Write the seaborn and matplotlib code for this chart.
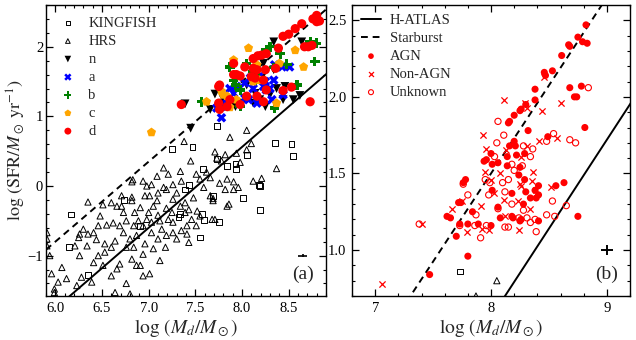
import matplotlib
matplotlib.use('Agg')
import matplotlib.pyplot as plt
from matplotlib.ticker import MultipleLocator, FormatStrFormatter
import seaborn as sns
import numpy as np

# ---- panel (a): comparison samples ----
kf_x = [7.73, 7.25, 7.47, 8.35, 8.53, 8.55, 8.05, 7.94, 7.73, 7.84,
        7.58, 7.43, 7.39, 8.18, 8.19, 8.01, 8.19, 7.34, 7.32, 7.57,
        7.75, 7.55, 6.74, 6.17, 6.15, 6.35, 6.91, 7.69, 7.59, 7.93]
kf_y = [0.86, 0.53, 0.56, 0.62, 0.60, 0.43, 0.44, 0.24, 0.39, 0.29,
        0.24, 0.01, -0.05, 0.02, 0.00, -0.17, -0.34, -0.40, -0.45, -0.40,
        -0.52, -0.74, -0.20, -0.41, -0.87, -1.28, -0.58, -0.15, -0.49, 0.31]

hrs_x = [7.87, 8.05, 8.10, 7.38, 7.45, 7.71, 7.94, 8.05, 7.82, 7.73,
         7.78, 8.37, 8.21, 8.12, 7.16, 7.34, 7.62, 7.51, 7.55, 7.66,
         7.76, 7.91, 7.96, 7.59, 7.35, 7.26, 7.09, 7.03, 6.94, 6.82,
         6.83, 6.71, 6.96, 7.10, 7.19, 7.30, 7.48, 7.66, 7.69, 7.84,
         6.35, 6.51, 6.60, 6.66, 6.73, 6.82, 6.85, 6.91, 7.00, 7.05,
         7.10, 7.19, 7.25, 7.34, 7.39, 7.43, 7.46, 7.51, 7.68, 7.55,
         7.26, 7.21, 7.12, 7.03, 6.98, 6.94, 6.89, 6.84, 6.76, 6.69,
         6.62, 6.55, 6.48, 6.46, 6.41, 6.35, 6.26, 6.25, 6.30, 6.21,
         6.34, 6.44, 6.53, 6.60, 6.64, 6.73, 6.80, 6.84, 6.87, 6.96,
         7.03, 7.05, 7.10, 7.14, 7.19, 7.26, 7.30, 7.35, 7.41, 7.43,
         7.18, 7.12, 6.94, 7.01, 6.87, 6.82, 6.69, 6.66, 6.60, 6.51,
         6.46, 6.41, 6.39, 6.28, 6.23, 6.12, 6.07, 5.96, 5.94, 6.03,
         5.99, 5.99, 6.76, 6.64, 6.80, 5.91, 5.91, 5.91, 6.26, 6.53,
         6.76, 6.94, 6.91, 7.39, 7.09, 7.26, 7.01, 6.82, 6.71, 6.98,
         7.21, 7.16, 7.69, 7.82, 7.84, 7.91, 7.98, 7.86, 7.71, 7.52, 7.41]
hrs_y = [0.70, 0.80, 0.61, 0.64, 0.36, 0.49, 0.47, 0.52, 0.45, 0.40,
         0.36, 0.25, 0.11, 0.07, 0.26, 0.21, 0.20, 0.17, 0.10, 0.12,
         0.04, 0.06, -0.02, -0.02, 0.07, 0.02, 0.14, 0.02, 0.07, 0.06,
         0.09, -0.29, -0.14, -0.10, -0.05, -0.10, -0.17, -0.14, -0.18, -0.29,
         -0.23, -0.27, -0.24, -0.29, -0.38, -0.21, -0.38, -0.31, -0.38, -0.29,
         -0.42, -0.32, -0.38, -0.29, -0.38, -0.34, -0.48, -0.57, -0.48, -0.43,
         -0.52, -0.48, -0.50, -0.52, -0.48, -0.57, -0.50, -0.57, -0.50, -0.57,
         -0.53, -0.56, -0.43, -0.57, -0.67, -0.69, -0.69, -0.74, -0.62, -0.86,
         -0.86, -0.77, -0.83, -0.88, -0.79, -0.67, -0.76, -0.88, -0.71, -0.83,
         -0.67, -0.90, -0.76, -0.62, -0.71, -0.67, -0.76, -0.64, -0.69, -0.81,
         -0.88, -1.07, -1.29, -1.26, -1.14, -1.05, -1.12, -1.19, -1.29, -1.14,
         -1.00, -1.10, -1.38, -1.31, -1.43, -1.33, -1.17, -1.26, -1.00, -1.38,
         -1.48, -1.53, -1.40, -1.53, -1.55, -0.67, -0.76, -0.86, -1.00, -0.95,
         -0.88, -0.98, -1.14, -0.24, -0.21, -0.19, -0.14, -0.16, -0.14, 0.00,
         0.17, -0.02, -0.21, -0.05, 0.10, -0.05, 0.34, -0.26, -0.48, -0.36, -0.57]

# ---- panel (a): sample split into classes n, a, b, c, d ----
n_x = [7.39, 7.45, 7.66, 7.71, 7.80, 7.93, 8.12, 8.19, 8.25, 8.14, 8.34, 8.64,
       8.34, 8.46, 8.44, 8.55, 8.62, 8.30, 8.05, 8.37, 8.21, 8.00, 8.23]
n_y = [1.18, 0.83, 1.10, 1.32, 1.24, 1.14, 1.19, 1.24, 1.14, 1.33, 2.07, 2.07,
       1.67, 1.43, 1.24, 1.24, 1.30, 1.31, 1.45, 1.40, 1.55, 1.19, 1.76]

a_x = [7.78, 7.78, 7.73, 7.84, 7.87, 7.94, 8.03, 8.09, 8.18, 8.23, 8.26, 8.35,
       8.43, 8.51, 8.25, 8.34, 8.30, 8.07, 8.03, 8.16, 8.44, 8.32, 7.91, 8.12]
a_y = [0.98, 1.14, 1.12, 1.19, 1.40, 1.43, 1.48, 1.55, 1.57, 1.43, 1.38, 1.74,
       1.71, 1.71, 1.50, 1.52, 1.40, 1.24, 1.26, 1.19, 1.31, 1.24, 1.33, 1.40]

b_x = [7.57, 7.87, 8.05, 8.26, 8.41, 8.30, 8.73, 8.80, 8.78, 8.48,
       8.34, 8.12, 8.18, 8.14, 7.98, 7.93, 8.59, 8.35, 7.91, 7.98]
b_y = [1.21, 1.71, 1.76, 1.96, 1.90, 2.00, 2.07, 2.05, 1.79, 1.75,
       1.70, 1.64, 1.55, 1.52, 1.38, 1.45, 1.45, 1.12, 1.52, 1.14]

c_x = [7.03, 7.62, 8.07, 7.91, 8.57, 8.40, 8.66, 7.78,
       7.80, 7.94, 7.87, 8.19, 8.37, 8.12, 8.16, 7.84]
c_y = [0.77, 1.21, 1.98, 1.81, 1.95, 1.76, 1.71, 1.36,
       1.31, 1.24, 1.13, 1.52, 1.19, 1.50, 1.74, 1.29]

d_x = [8.80, 8.76, 8.80, 8.83, 8.64, 8.57, 8.50, 8.44, 8.67, 8.71,
       8.75, 8.39, 8.26, 8.21, 8.17, 8.12, 7.91, 8.03, 8.12, 8.16,
       8.25, 8.36, 7.91, 7.94, 7.98, 7.76, 7.75, 8.10, 8.14, 8.23,
       8.26, 8.16, 8.05, 7.87, 7.75, 7.98, 8.23, 7.35, 8.73, 8.53,
       8.44, 7.84, 7.76]
d_y = [2.45, 2.40, 2.36, 2.37, 2.33, 2.26, 2.18, 2.15, 2.00, 2.00,
       2.02, 1.98, 1.90, 1.88, 1.87, 1.83, 1.76, 1.71, 1.69, 1.67,
       1.67, 1.69, 1.60, 1.60, 1.58, 1.45, 1.43, 1.57, 1.55, 1.52,
       1.38, 1.29, 1.29, 1.24, 1.19, 1.17, 1.21, 1.17, 1.21, 1.42,
       1.37, 1.14, 1.10]

# ---- panel (b): AGN classification ----
agn_x = [8.82, 8.75, 8.79, 8.83, 8.68, 8.67, 8.61, 8.53, 8.46, 8.47,
         8.38, 8.68, 8.78, 8.72, 8.74, 8.38, 8.30, 8.26, 8.25, 8.20,
         8.16, 8.15, 8.32, 8.81, 8.49, 8.20, 8.21, 8.16, 8.29, 8.22,
         8.14, 8.00, 7.96, 7.94, 8.01, 8.14, 8.06, 8.25, 8.24, 8.29,
         8.41, 8.56, 8.63, 8.30, 8.38, 8.18, 8.41, 8.39, 8.01, 7.78,
         7.76, 8.34, 8.28, 7.74, 7.72, 7.84, 8.06, 7.62, 7.65, 7.73,
         7.80, 7.89, 8.00, 8.08, 8.18, 8.19, 8.26, 8.25, 8.41, 8.75,
         7.70, 7.80, 7.47]
agn_y = [2.47, 2.39, 2.36, 2.35, 2.33, 2.34, 2.27, 2.17, 2.16, 2.14,
         2.05, 2.06, 2.07, 2.00, 2.00, 1.98, 1.95, 1.92, 1.91, 1.88,
         1.84, 1.83, 1.78, 1.80, 1.74, 1.71, 1.68, 1.68, 1.63, 1.62,
         1.61, 1.63, 1.59, 1.58, 1.56, 1.55, 1.57, 1.54, 1.49, 1.46,
         1.42, 1.42, 1.44, 1.38, 1.39, 1.37, 1.36, 1.34, 1.39, 1.46,
         1.44, 1.34, 1.30, 1.31, 1.31, 1.25, 1.28, 1.22, 1.21, 1.17,
         1.17, 1.17, 1.16, 1.21, 1.22, 1.21, 1.20, 1.19, 1.19, 1.22,
         1.09, 0.96, 0.84]

nonagn_x = [7.06, 7.40, 7.66, 7.75, 7.79, 7.91, 7.92, 7.98, 7.93, 7.96,
            7.95, 8.03, 8.11, 8.11, 8.29, 8.31, 8.44, 8.60, 8.46, 8.13,
            8.26, 8.31, 8.36, 8.26, 8.23, 8.34, 8.39, 8.52, 8.41, 8.57,
            8.12, 8.24, 8.35, 8.00, 8.08, 8.25]
nonagn_y = [0.78, 1.17, 1.27, 1.32, 1.12, 1.29, 1.14, 1.13, 1.75, 1.66,
            1.51, 1.37, 1.33, 1.98, 1.96, 1.93, 1.91, 1.96, 2.13, 1.65,
            1.61, 1.68, 1.51, 1.42, 1.32, 1.27, 1.39, 1.41, 1.71, 1.73,
            1.22, 1.13, 1.45, 1.46, 1.50, 1.43]

unk_x = [7.38, 7.73, 7.76, 7.80, 7.86, 7.91, 7.87, 7.96, 8.06, 8.05,
         8.11, 7.95, 7.99, 8.10, 8.15, 8.12, 8.18, 8.20, 8.27, 8.28,
         8.34, 8.36, 8.48, 8.54, 8.68, 8.73, 8.84, 8.28, 8.31, 8.38,
         8.34, 8.39, 8.48, 8.53, 8.55, 8.65, 8.12, 8.15, 8.06, 8.24,
         7.98, 8.18, 8.03]
unk_y = [1.17, 1.16, 1.43, 1.36, 1.16, 1.08, 1.23, 1.16, 1.84, 1.70,
         1.75, 1.46, 1.44, 1.44, 1.46, 1.38, 1.30, 1.52, 1.55, 1.68,
         1.61, 1.66, 1.71, 1.76, 1.72, 1.70, 2.06, 1.26, 1.21, 1.20,
         1.18, 1.12, 1.23, 1.32, 1.22, 1.29, 1.15, 1.15, 1.27, 1.21,
         1.36, 1.56, 1.61]

# relations: log SFR = slope * log Md + intercept
hatlas_fit = (1.16, -8.72)
starburst_fit = (1.15, -7.70)
line_x = np.array([5.9, 9.3])

# typical error bars
err_a = dict(x=8.65, y=-1.0, xerr=0.045, yerr=0.02)
err_b = dict(x=9.0, y=1.0, xerr=0.05, yerr=0.03)

# ---- style ----
sns.set_theme(style='ticks')
plt.rcParams['font.family'] = ['Liberation Serif', 'DejaVu Serif']
plt.rcParams['mathtext.fontset'] = 'stix'
plt.rcParams['axes.linewidth'] = 1.0

fig = plt.figure(figsize=(6.36, 3.4), dpi=100)
ax1 = fig.add_axes([0.0723, 0.1294, 0.4403, 0.856])
ax2 = fig.add_axes([0.5535, 0.1294, 0.4371, 0.856])

open_sq = dict(marker='s', s=18, facecolor='none', edgecolor='black', linewidth=0.7)
open_tri = dict(marker='^', s=20, facecolor='none', edgecolor='black', linewidth=0.7)

for ax in (ax1, ax2):
    sns.lineplot(x=line_x, y=hatlas_fit[0] * line_x + hatlas_fit[1], ax=ax,
                 color='black', lw=1.4, label='H-ATLAS', zorder=1)
    sns.lineplot(x=line_x, y=starburst_fit[0] * line_x + starburst_fit[1], ax=ax,
                 color='black', lw=1.4, ls=(0, (3.5, 2.5)), label='Starburst', zorder=1)

# panel (a)
sns.scatterplot(x=kf_x, y=kf_y, ax=ax1, label='KINGFISH', color='black', **open_sq)
sns.scatterplot(x=hrs_x, y=hrs_y, ax=ax1, label='HRS', color='black', **open_tri)
sns.scatterplot(x=n_x, y=n_y, ax=ax1, label='n', color='black', marker='v', s=40, edgecolor='none')
sns.scatterplot(x=a_x, y=a_y, ax=ax1, label='a', color='#0000ff', marker='X', s=48, edgecolor='none')
sns.scatterplot(x=b_x, y=b_y, ax=ax1, label='b', color='#008000', marker='P', s=48, edgecolor='none')
sns.scatterplot(x=c_x, y=c_y, ax=ax1, label='c', color='#ffa500', marker='p', s=48, edgecolor='none')
sns.scatterplot(x=d_x, y=d_y, ax=ax1, label='d', color='#ff0000', marker='o', s=44, edgecolor='none')
ax1.errorbar(err_a['x'], err_a['y'], xerr=err_a['xerr'], yerr=err_a['yerr'],
             color='black', lw=1.2, capsize=0)

# panel (b)
sns.scatterplot(x=kf_x, y=kf_y, ax=ax2, color='black', **open_sq)
sns.scatterplot(x=hrs_x, y=hrs_y, ax=ax2, color='black', **open_tri)
sns.scatterplot(x=agn_x, y=agn_y, ax=ax2, label='AGN', color='#ff0000', marker='o', s=26, edgecolor='none')
sns.scatterplot(x=nonagn_x, y=nonagn_y, ax=ax2, label='Non-AGN', color='#ff0000', marker='x', s=20, linewidth=0.9)
sns.scatterplot(x=unk_x, y=unk_y, ax=ax2, label='Unknown', color='#ff0000', marker='o', s=20,
                facecolor='none', edgecolor='#ff0000', linewidth=0.8)
ax2.errorbar(err_b['x'], err_b['y'], xerr=err_b['xerr'], yerr=err_b['yerr'],
             color='black', lw=1.4, capsize=0)

# legends
h1, l1 = ax1.get_legend_handles_labels()
keep = [i for i, l in enumerate(l1) if l not in ('H-ATLAS', 'Starburst')]
ax1.legend([h1[i] for i in keep], [l1[i] for i in keep], loc='upper left', frameon=False,
           fontsize=10.5, markerscale=0.75, handletextpad=0.7, labelspacing=0.33,
           borderaxespad=0.4, borderpad=0.4, handlelength=1.4)
h2, l2 = ax2.get_legend_handles_labels()
ax2.legend(h2, l2, loc='upper left', frameon=False, fontsize=10.5, markerscale=0.8,
           handletextpad=0.6, labelspacing=0.33, borderaxespad=0.2, borderpad=0.4,
           handlelength=1.4)

# axes
ax1.set_xlim(5.9, 8.9)
ax1.set_ylim(-1.58, 2.6)
ax1.xaxis.set_major_locator(MultipleLocator(0.5))
ax1.xaxis.set_minor_locator(MultipleLocator(0.1))
ax1.xaxis.set_major_formatter(FormatStrFormatter('%.1f'))
ax1.yaxis.set_major_locator(MultipleLocator(1))
ax1.yaxis.set_minor_locator(MultipleLocator(0.2))

ax2.set_xlim(6.8, 9.2)
ax2.set_ylim(0.7, 2.6)
ax2.xaxis.set_major_locator(MultipleLocator(1))
ax2.xaxis.set_minor_locator(MultipleLocator(0.2))
ax2.yaxis.set_major_locator(MultipleLocator(0.5))
ax2.yaxis.set_minor_locator(MultipleLocator(0.1))
ax2.yaxis.set_major_formatter(FormatStrFormatter('%.1f'))

for ax, tag in ((ax1, '(a)'), (ax2, '(b)')):
    ax.tick_params(which='both', direction='in', top=True, right=True,
                   labelsize=10.5, color='black', labelcolor='black')
    ax.tick_params(which='major', length=5, width=0.9, pad=4)
    ax.tick_params(which='minor', length=2.5, width=0.8)
    ax.set_xlabel(r'$\log\,(M_d/M_\odot)$', fontsize=14, labelpad=2)
    ax.text(0.955, 0.045, tag, transform=ax.transAxes, ha='right', va='bottom', fontsize=14)
    for sp in ax.spines.values():
        sp.set_color('black')

ax1.tick_params(axis='y', which='major', pad=2)
ax1.set_ylabel(r'$\log\,(\mathrm{SFR}/M_\odot\ \mathrm{yr}^{-1})$', fontsize=13, labelpad=0)
ax2.set_ylabel('')

fig.savefig('out.png', dpi=100)
